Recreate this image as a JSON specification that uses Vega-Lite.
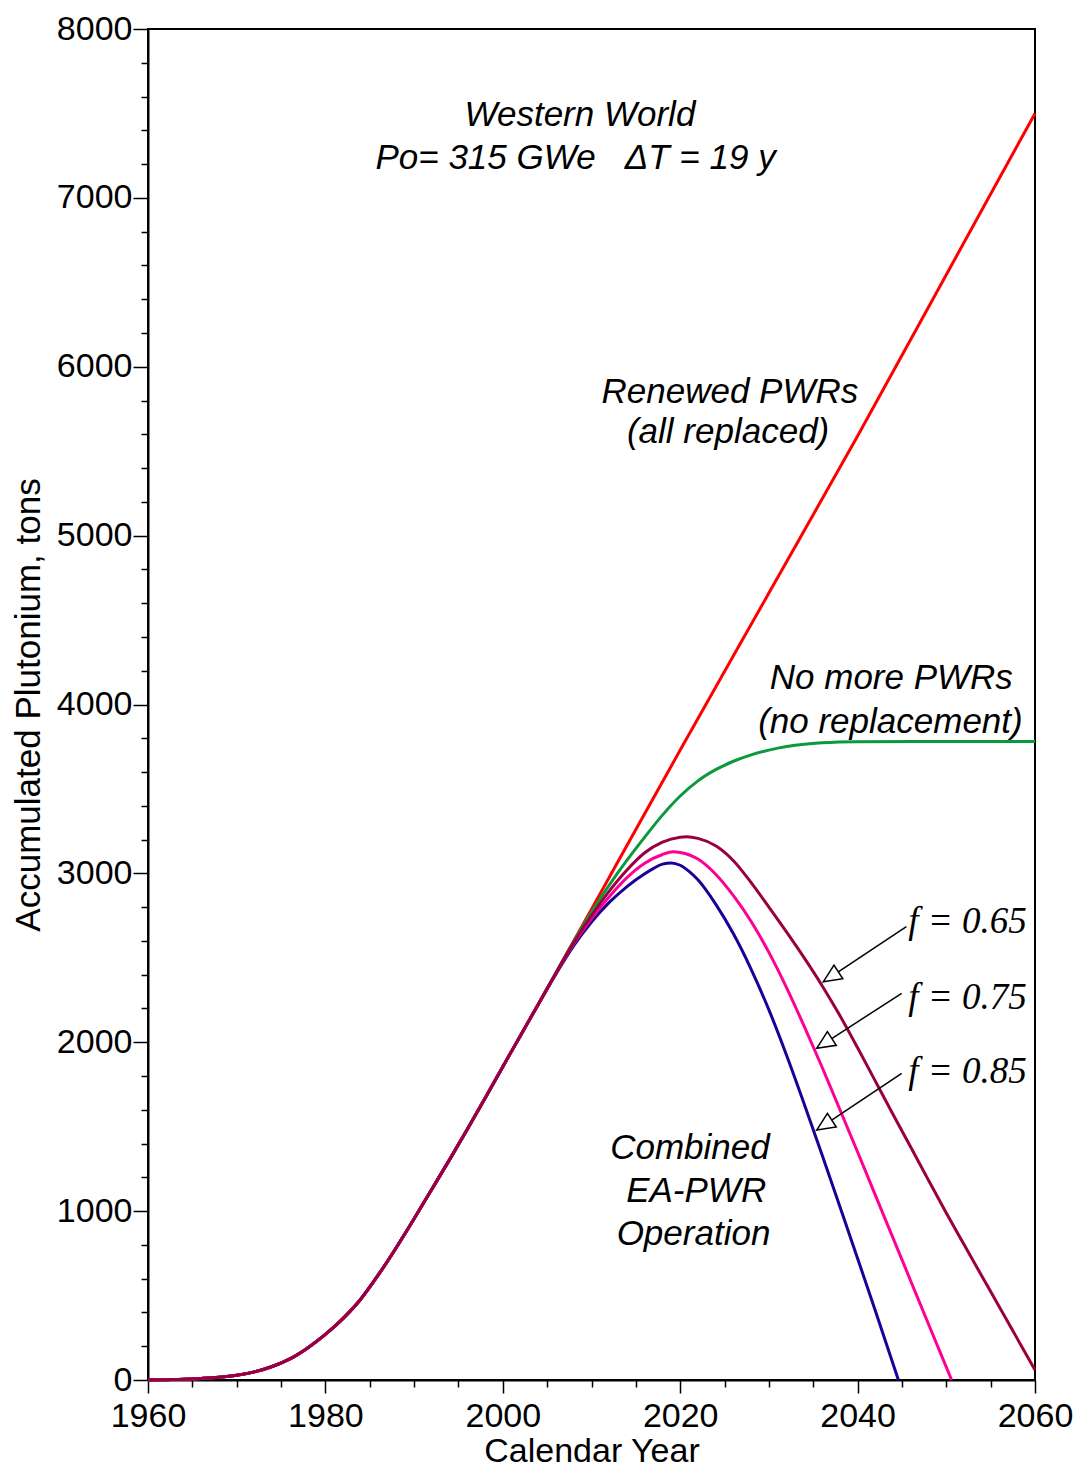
{
  "$schema": "https://vega.github.io/schema/vega-lite/v6.json",
  "width": 887,
  "height": 1351,
  "autosize": "none",
  "padding": {"left": 148, "top": 29, "right": 46, "bottom": 88},
  "background": "white",
  "config": {
    "view": {"stroke": "black", "strokeWidth": 2},
    "font": "Liberation Sans",
    "axis": {"labelColor": "black", "titleColor": "black", "domainColor": "black", "tickColor": "black", "grid": false, "titleFontWeight": "normal", "labelFont": "Liberation Sans", "titleFont": "Liberation Sans"}
  },
  "datasets": {
    "curves": [
      {"s": "renewed", "year": 1960, "pu": 0}, {"s": "renewed", "year": 1962, "pu": 2}, {"s": "renewed", "year": 1964, "pu": 4}, {"s": "renewed", "year": 1966, "pu": 9}, {"s": "renewed", "year": 1968, "pu": 16}, {"s": "renewed", "year": 1970, "pu": 28}, {"s": "renewed", "year": 1972, "pu": 48}, {"s": "renewed", "year": 1974, "pu": 80}, {"s": "renewed", "year": 1976, "pu": 125}, {"s": "renewed", "year": 1978, "pu": 190}, {"s": "renewed", "year": 1980, "pu": 270}, {"s": "renewed", "year": 1982, "pu": 365}, {"s": "renewed", "year": 1984, "pu": 480}, {"s": "renewed", "year": 1986, "pu": 625}, {"s": "renewed", "year": 1988, "pu": 785}, {"s": "renewed", "year": 1990, "pu": 955}, {"s": "renewed", "year": 1992, "pu": 1130}, {"s": "renewed", "year": 1994, "pu": 1305}, {"s": "renewed", "year": 1996, "pu": 1485}, {"s": "renewed", "year": 1998, "pu": 1668}, {"s": "renewed", "year": 2000, "pu": 1855}, {"s": "renewed", "year": 2002, "pu": 2040}, {"s": "renewed", "year": 2004, "pu": 2225}, {"s": "renewed", "year": 2006, "pu": 2412},
      {"s": "renewed", "year": 2008, "pu": 2600}, {"s": "renewed", "year": 2010, "pu": 2788}, {"s": "renewed", "year": 2015, "pu": 3260}, {"s": "renewed", "year": 2020, "pu": 3730}, {"s": "renewed", "year": 2030, "pu": 4660}, {"s": "renewed", "year": 2040, "pu": 5590}, {"s": "renewed", "year": 2050, "pu": 6545}, {"s": "renewed", "year": 2060, "pu": 7500},

      {"s": "nomore", "year": 1960, "pu": 0}, {"s": "nomore", "year": 1962, "pu": 2}, {"s": "nomore", "year": 1964, "pu": 4}, {"s": "nomore", "year": 1966, "pu": 9}, {"s": "nomore", "year": 1968, "pu": 16}, {"s": "nomore", "year": 1970, "pu": 28}, {"s": "nomore", "year": 1972, "pu": 48}, {"s": "nomore", "year": 1974, "pu": 80}, {"s": "nomore", "year": 1976, "pu": 125}, {"s": "nomore", "year": 1978, "pu": 190}, {"s": "nomore", "year": 1980, "pu": 270}, {"s": "nomore", "year": 1982, "pu": 365}, {"s": "nomore", "year": 1984, "pu": 480}, {"s": "nomore", "year": 1986, "pu": 625}, {"s": "nomore", "year": 1988, "pu": 785}, {"s": "nomore", "year": 1990, "pu": 955}, {"s": "nomore", "year": 1992, "pu": 1130}, {"s": "nomore", "year": 1994, "pu": 1305}, {"s": "nomore", "year": 1996, "pu": 1485}, {"s": "nomore", "year": 1998, "pu": 1668}, {"s": "nomore", "year": 2000, "pu": 1855}, {"s": "nomore", "year": 2002, "pu": 2040}, {"s": "nomore", "year": 2004, "pu": 2225}, {"s": "nomore", "year": 2006, "pu": 2412},
      {"s": "nomore", "year": 2008, "pu": 2597}, {"s": "nomore", "year": 2010, "pu": 2770}, {"s": "nomore", "year": 2012, "pu": 2930}, {"s": "nomore", "year": 2014, "pu": 3078}, {"s": "nomore", "year": 2016, "pu": 3215}, {"s": "nomore", "year": 2018, "pu": 3345}, {"s": "nomore", "year": 2020, "pu": 3458}, {"s": "nomore", "year": 2022, "pu": 3548}, {"s": "nomore", "year": 2024, "pu": 3614}, {"s": "nomore", "year": 2026, "pu": 3664}, {"s": "nomore", "year": 2028, "pu": 3702}, {"s": "nomore", "year": 2030, "pu": 3730}, {"s": "nomore", "year": 2032, "pu": 3751}, {"s": "nomore", "year": 2034, "pu": 3765}, {"s": "nomore", "year": 2036, "pu": 3773}, {"s": "nomore", "year": 2040, "pu": 3779}, {"s": "nomore", "year": 2050, "pu": 3781}, {"s": "nomore", "year": 2060, "pu": 3781},

      {"s": "f085", "year": 1960, "pu": 0}, {"s": "f085", "year": 1962, "pu": 2}, {"s": "f085", "year": 1964, "pu": 4}, {"s": "f085", "year": 1966, "pu": 9}, {"s": "f085", "year": 1968, "pu": 16}, {"s": "f085", "year": 1970, "pu": 28}, {"s": "f085", "year": 1972, "pu": 48}, {"s": "f085", "year": 1974, "pu": 80}, {"s": "f085", "year": 1976, "pu": 125}, {"s": "f085", "year": 1978, "pu": 190}, {"s": "f085", "year": 1980, "pu": 270}, {"s": "f085", "year": 1982, "pu": 365}, {"s": "f085", "year": 1984, "pu": 480}, {"s": "f085", "year": 1986, "pu": 625}, {"s": "f085", "year": 1988, "pu": 785}, {"s": "f085", "year": 1990, "pu": 955}, {"s": "f085", "year": 1992, "pu": 1130}, {"s": "f085", "year": 1994, "pu": 1305}, {"s": "f085", "year": 1996, "pu": 1485}, {"s": "f085", "year": 1998, "pu": 1668}, {"s": "f085", "year": 2000, "pu": 1855}, {"s": "f085", "year": 2002, "pu": 2040}, {"s": "f085", "year": 2004, "pu": 2224}, {"s": "f085", "year": 2006, "pu": 2405},
      {"s": "f085", "year": 2008, "pu": 2572}, {"s": "f085", "year": 2010, "pu": 2712}, {"s": "f085", "year": 2012, "pu": 2828}, {"s": "f085", "year": 2014, "pu": 2922}, {"s": "f085", "year": 2016, "pu": 2998}, {"s": "f085", "year": 2017, "pu": 3030}, {"s": "f085", "year": 2018, "pu": 3055}, {"s": "f085", "year": 2019, "pu": 3062}, {"s": "f085", "year": 2020, "pu": 3048}, {"s": "f085", "year": 2021, "pu": 3012}, {"s": "f085", "year": 2022, "pu": 2962}, {"s": "f085", "year": 2024, "pu": 2818}, {"s": "f085", "year": 2026, "pu": 2642}, {"s": "f085", "year": 2028, "pu": 2432}, {"s": "f085", "year": 2030, "pu": 2192}, {"s": "f085", "year": 2032, "pu": 1922}, {"s": "f085", "year": 2034, "pu": 1632}, {"s": "f085", "year": 2036, "pu": 1332}, {"s": "f085", "year": 2038, "pu": 1027}, {"s": "f085", "year": 2040, "pu": 720}, {"s": "f085", "year": 2042, "pu": 410}, {"s": "f085", "year": 2044, "pu": 95}, {"s": "f085", "year": 2044.6, "pu": 0},

      {"s": "f075", "year": 1960, "pu": 0}, {"s": "f075", "year": 1962, "pu": 2}, {"s": "f075", "year": 1964, "pu": 4}, {"s": "f075", "year": 1966, "pu": 9}, {"s": "f075", "year": 1968, "pu": 16}, {"s": "f075", "year": 1970, "pu": 28}, {"s": "f075", "year": 1972, "pu": 48}, {"s": "f075", "year": 1974, "pu": 80}, {"s": "f075", "year": 1976, "pu": 125}, {"s": "f075", "year": 1978, "pu": 190}, {"s": "f075", "year": 1980, "pu": 270}, {"s": "f075", "year": 1982, "pu": 365}, {"s": "f075", "year": 1984, "pu": 480}, {"s": "f075", "year": 1986, "pu": 625}, {"s": "f075", "year": 1988, "pu": 785}, {"s": "f075", "year": 1990, "pu": 955}, {"s": "f075", "year": 1992, "pu": 1130}, {"s": "f075", "year": 1994, "pu": 1305}, {"s": "f075", "year": 1996, "pu": 1485}, {"s": "f075", "year": 1998, "pu": 1668}, {"s": "f075", "year": 2000, "pu": 1855}, {"s": "f075", "year": 2002, "pu": 2040}, {"s": "f075", "year": 2004, "pu": 2225}, {"s": "f075", "year": 2006, "pu": 2408},
      {"s": "f075", "year": 2008, "pu": 2583}, {"s": "f075", "year": 2010, "pu": 2732}, {"s": "f075", "year": 2012, "pu": 2862}, {"s": "f075", "year": 2014, "pu": 2975}, {"s": "f075", "year": 2016, "pu": 3060}, {"s": "f075", "year": 2018, "pu": 3112}, {"s": "f075", "year": 2019.2, "pu": 3128}, {"s": "f075", "year": 2020, "pu": 3124}, {"s": "f075", "year": 2022, "pu": 3085}, {"s": "f075", "year": 2024, "pu": 2995}, {"s": "f075", "year": 2026, "pu": 2868}, {"s": "f075", "year": 2028, "pu": 2715}, {"s": "f075", "year": 2030, "pu": 2532}, {"s": "f075", "year": 2032, "pu": 2322}, {"s": "f075", "year": 2034, "pu": 2092}, {"s": "f075", "year": 2036, "pu": 1852}, {"s": "f075", "year": 2038, "pu": 1602}, {"s": "f075", "year": 2040, "pu": 1350}, {"s": "f075", "year": 2042, "pu": 1095}, {"s": "f075", "year": 2044, "pu": 840}, {"s": "f075", "year": 2046, "pu": 585}, {"s": "f075", "year": 2048, "pu": 330}, {"s": "f075", "year": 2050, "pu": 76}, {"s": "f075", "year": 2050.6, "pu": 0},

      {"s": "f065", "year": 1960, "pu": 0}, {"s": "f065", "year": 1962, "pu": 2}, {"s": "f065", "year": 1964, "pu": 4}, {"s": "f065", "year": 1966, "pu": 9}, {"s": "f065", "year": 1968, "pu": 16}, {"s": "f065", "year": 1970, "pu": 28}, {"s": "f065", "year": 1972, "pu": 48}, {"s": "f065", "year": 1974, "pu": 80}, {"s": "f065", "year": 1976, "pu": 125}, {"s": "f065", "year": 1978, "pu": 190}, {"s": "f065", "year": 1980, "pu": 270}, {"s": "f065", "year": 1982, "pu": 365}, {"s": "f065", "year": 1984, "pu": 480}, {"s": "f065", "year": 1986, "pu": 625}, {"s": "f065", "year": 1988, "pu": 785}, {"s": "f065", "year": 1990, "pu": 955}, {"s": "f065", "year": 1992, "pu": 1130}, {"s": "f065", "year": 1994, "pu": 1305}, {"s": "f065", "year": 1996, "pu": 1485}, {"s": "f065", "year": 1998, "pu": 1668}, {"s": "f065", "year": 2000, "pu": 1855}, {"s": "f065", "year": 2002, "pu": 2040}, {"s": "f065", "year": 2004, "pu": 2225}, {"s": "f065", "year": 2006, "pu": 2410},
      {"s": "f065", "year": 2008, "pu": 2590}, {"s": "f065", "year": 2010, "pu": 2750}, {"s": "f065", "year": 2012, "pu": 2895}, {"s": "f065", "year": 2014, "pu": 3020}, {"s": "f065", "year": 2016, "pu": 3122}, {"s": "f065", "year": 2018, "pu": 3185}, {"s": "f065", "year": 2020, "pu": 3214}, {"s": "f065", "year": 2020.7, "pu": 3217}, {"s": "f065", "year": 2022, "pu": 3207}, {"s": "f065", "year": 2024, "pu": 3163}, {"s": "f065", "year": 2026, "pu": 3075}, {"s": "f065", "year": 2028, "pu": 2945}, {"s": "f065", "year": 2030, "pu": 2800}, {"s": "f065", "year": 2032, "pu": 2652}, {"s": "f065", "year": 2034, "pu": 2498}, {"s": "f065", "year": 2036, "pu": 2335}, {"s": "f065", "year": 2038, "pu": 2158}, {"s": "f065", "year": 2040, "pu": 1967}, {"s": "f065", "year": 2042, "pu": 1770}, {"s": "f065", "year": 2044, "pu": 1572}, {"s": "f065", "year": 2046, "pu": 1378}, {"s": "f065", "year": 2048, "pu": 1182}, {"s": "f065", "year": 2050, "pu": 989}, {"s": "f065", "year": 2052, "pu": 802}, {"s": "f065", "year": 2054, "pu": 616}, {"s": "f065", "year": 2056, "pu": 431}, {"s": "f065", "year": 2058, "pu": 245}, {"s": "f065", "year": 2060, "pu": 59}
    ],
    "notes": [
      {"label": "Western World", "year": 2008.7, "pu": 7490},
      {"label": "Po=\u00a0315\u00a0GWe\u00a0\u00a0\u00a0ΔT\u00a0=\u00a019\u00a0y", "year": 2008.2, "pu": 7236},
      {"label": "Renewed PWRs", "year": 2025.6, "pu": 5852},
      {"label": "(all replaced)", "year": 2025.4, "pu": 5615},
      {"label": "No more PWRs", "year": 2043.8, "pu": 4157},
      {"label": "(no replacement)", "year": 2043.7, "pu": 3898},
      {"label": "Combined", "year": 2021.1, "pu": 1374},
      {"label": "EA-PWR", "year": 2021.8, "pu": 1119},
      {"label": "Operation", "year": 2021.5, "pu": 865}
    ],
    "flabels": [
      {"label": "f = 0.65", "year": 2045.7, "pu": 2714},
      {"label": "f = 0.75", "year": 2045.7, "pu": 2262},
      {"label": "f = 0.85", "year": 2045.7, "pu": 1826}
    ],
    "arrows": [
      {"year": 2045.5, "pu": 2684, "year2": 2036.13, "pu2": 2358},
      {"year": 2044.97, "pu": 2290, "year2": 2035.39, "pu2": 1964},
      {"year": 2044.97, "pu": 1816, "year2": 2035.39, "pu2": 1480}
    ]
  },
  "encoding": {
    "x": {
      "field": "year", "type": "quantitative",
      "scale": {"domain": [1960, 2060], "nice": false, "zero": false},
      "axis": {
        "title": "Calendar Year",
        "values": [1960, 1965, 1970, 1975, 1980, 1985, 1990, 1995, 2000, 2005, 2010, 2015, 2020, 2025, 2030, 2035, 2040, 2045, 2050, 2055, 2060],
        "format": "d",
        "labelExpr": "datum.value % 20 === 0 ? datum.label : ''",
        "tickSize": {"condition": {"test": "datum.value % 20 === 0", "value": 13}, "value": 7},
        "tickWidth": 1.5,
        "domainWidth": 2,
        "labelFontSize": 34,
        "titleFontSize": 34,
        "labelPadding": 6,
        "titlePadding": 1,
        "labelFlush": false,
        "labelOverlap": false
      }
    },
    "y": {
      "field": "pu", "type": "quantitative",
      "scale": {"domain": [0, 8000], "nice": false},
      "axis": {
        "title": "Accumulated Plutonium, tons",
        "values": [0, 200, 400, 600, 800, 1000, 1200, 1400, 1600, 1800, 2000, 2200, 2400, 2600, 2800, 3000, 3200, 3400, 3600, 3800, 4000, 4200, 4400, 4600, 4800, 5000, 5200, 5400, 5600, 5800, 6000, 6200, 6400, 6600, 6800, 7000, 7200, 7400, 7600, 7800, 8000],
        "format": "d",
        "labelExpr": "datum.value % 1000 === 0 ? datum.label : ''",
        "tickSize": {"condition": {"test": "datum.value % 1000 === 0", "value": 15}, "value": 7},
        "tickWidth": 1.5,
        "domainWidth": 2,
        "labelFontSize": 34,
        "titleFontSize": 35,
        "labelPadding": 1,
        "titlePadding": 10,
        "labelFlush": false,
        "labelOverlap": false
      }
    }
  },
  "layer": [
    {"data": {"name": "curves"}, "transform": [{"filter": "datum.s === 'renewed'"}], "mark": {"type": "line", "color": "#ff0000", "strokeWidth": 3, "interpolate": "monotone"}},
    {"data": {"name": "curves"}, "transform": [{"filter": "datum.s === 'nomore'"}], "mark": {"type": "line", "color": "#0a9a3c", "strokeWidth": 3, "interpolate": "monotone"}},
    {"data": {"name": "curves"}, "transform": [{"filter": "datum.s === 'f085'"}], "mark": {"type": "line", "color": "#1e0096", "strokeWidth": 3, "interpolate": "monotone"}},
    {"data": {"name": "curves"}, "transform": [{"filter": "datum.s === 'f075'"}], "mark": {"type": "line", "color": "#ff0094", "strokeWidth": 3, "interpolate": "monotone"}},
    {"data": {"name": "curves"}, "transform": [{"filter": "datum.s === 'f065'"}], "mark": {"type": "line", "color": "#99003f", "strokeWidth": 3, "interpolate": "monotone"}},
    {"data": {"name": "arrows"}, "mark": {"type": "rule", "color": "black", "strokeWidth": 1.5}, "encoding": {"x2": {"field": "year2"}, "y2": {"field": "pu2"}}},
    {"data": {"name": "arrows"}, "mark": {"type": "point", "shape": "M0,0 L0.45,1 L-0.45,1 Z", "size": 1300, "angle": 237, "fill": "white", "stroke": "black", "strokeWidth": 1.5, "opacity": 1, "filled": true}, "encoding": {"x": {"field": "year2", "type": "quantitative"}, "y": {"field": "pu2", "type": "quantitative"}}},
    {"data": {"name": "notes"}, "mark": {"type": "text", "font": "Liberation Sans", "fontStyle": "italic", "fontSize": 35, "align": "center", "baseline": "middle", "color": "black"}, "encoding": {"text": {"field": "label"}}},
    {"data": {"name": "flabels"}, "mark": {"type": "text", "font": "Liberation Serif", "fontStyle": "italic", "fontSize": 37, "align": "left", "baseline": "middle", "color": "black"}, "encoding": {"text": {"field": "label"}}}
  ]
}
